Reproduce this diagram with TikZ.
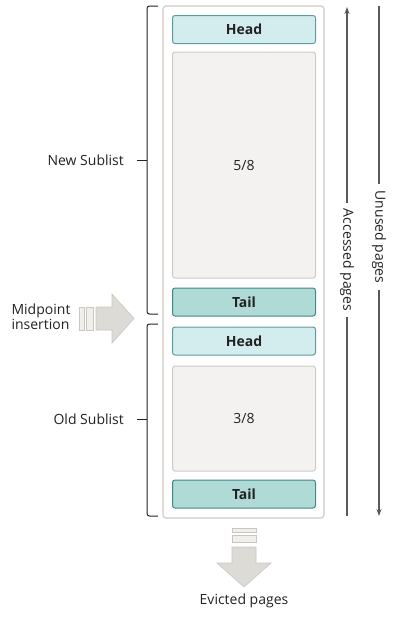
\documentclass[tikz,border=0pt]{standalone}
\usepackage{fontspec}
\setmainfont{Open Sans}
\usetikzlibrary{positioning, arrows.meta}
\definecolor{xhead}{HTML}{D3ECED}
\definecolor{xheadline}{HTML}{5A9E9B}
\definecolor{xtail}{HTML}{AFDAD6}
\definecolor{xtailline}{HTML}{3F8A86}
\definecolor{xpage}{HTML}{F3F2F0}
\definecolor{xpageline}{HTML}{CFCAC4}
\definecolor{xfat}{HTML}{DDDBD6}
\definecolor{xfatline}{HTML}{C9C5BF}
\definecolor{xbar}{HTML}{F1EFEB}
\definecolor{xtext}{HTML}{222222}
\newcommand{\lblfont}{\fontsize{14}{15}\selectfont}
\tikzset{
	box/.style={rounded corners=2.5pt, line width=1pt, minimum width=143pt, minimum height=28pt, inner sep=0pt, font=\lblfont\bfseries, text=xtext},
	headbox/.style={box, fill=xhead, draw=xheadline},
	tailbox/.style={box, fill=xtail, draw=xtailline},
	pagebox/.style={box, fill=xpage, draw=xpageline, font=\lblfont},
	bracket/.style={line width=1pt, draw=xtext, rounded corners=2.5pt},
	fat/.style={fill=xfat, draw=xfatline, line width=0.6pt},
	fatbar/.style={fill=xbar, draw=xfatline, line width=0.6pt},
	flow/.style={line width=1.4pt, draw=black!65, -{Stealth[length=7pt, width=5pt]}},
	lbl/.style={text=xtext, inner sep=1pt, font=\lblfont},
}

\begin{document}
\begin{tikzpicture}[x=1pt, y=-1pt]
	\useasboundingbox (0,0) rectangle (411,619);

	% buffer pool
	\draw[rounded corners=3pt, line width=1.2pt, draw=xpageline, fill=white] (163,6) rectangle (324,518);
	\node[headbox] (H1) at (244,29.5) {Head};
	\node[pagebox, minimum height=226pt] (P1) at (244,165) {5/8};
	\node[tailbox] (T1) at (244,302) {Tail};
	\node[headbox] (H2) at (244,341) {Head};
	\node[pagebox, minimum height=105pt] (P2) at (244,418.5) {3/8};
	\node[tailbox] (T2) at (244,494) {Tail};

	% sublists
	\draw[bracket] (158,6) -- (147,6) -- (147,314) -- (158,314);
	\draw[bracket] (147,160) -- (137,160) coordinate (newTip);
	\node[lbl, left=12pt of newTip] (newLbl) {New Sublist};
	\draw[bracket] (158,324) -- (147,324) -- (147,516) -- (158,516);
	\draw[bracket] (147,419) -- (137,419) coordinate (oldTip);
	\node[lbl, left=12pt of oldTip] (oldLbl) {Old Sublist};

	% midpoint insertion
	\node[lbl, align=left] (midLbl) at (41,317) {Midpoint\\insertion};
	\draw[fatbar] (79,307) rectangle (84,330);
	\draw[fatbar] (86,307) rectangle (93,330);
	\draw[fat] (96,307) -- (112,307) -- (112,294) -- (134,318.5) -- (112,343) -- (112,330) -- (96,330) -- cycle;

	% evicted pages
	\draw[fatbar] (232,528) rectangle (256,532);
	\draw[fatbar] (232,535) rectangle (256,542);
	\draw[fat] (232,547) -- (256,547) -- (256,563) -- (271,563) -- (244,587) -- (217,563) -- (232,563) -- cycle;
	\node[lbl] (evLbl) at (244,601) {Evicted pages};

	% page flow
	\coordinate (accTop) at (347,7);
	\coordinate (accBot) at (347,516);
	\node[lbl, rotate=-90, inner sep=6pt] (accLbl) at (347,260) {Accessed pages};
	\draw[flow] (accLbl.west) -- (accTop);
	\draw[flow, -] (accBot) -- (accLbl.east);
	\coordinate (unTop) at (379,6);
	\coordinate (unBot) at (379,516);
	\node[lbl, rotate=-90, inner sep=6pt] (unLbl) at (379,237) {Unused pages};
	\draw[flow, -] (unTop) -- (unLbl.west);
	\draw[flow] (unLbl.east) -- (unBot);
\end{tikzpicture}
\end{document}
